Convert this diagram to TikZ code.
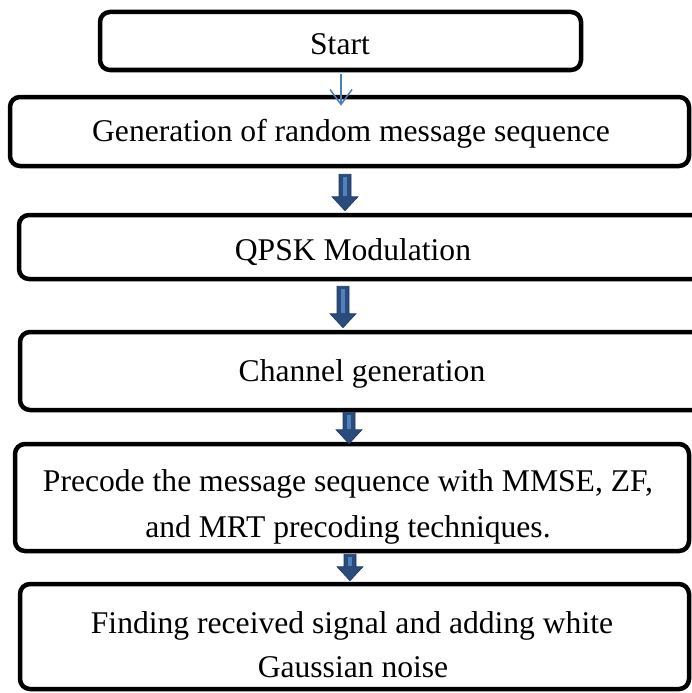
\documentclass[tikz,border=0pt]{standalone}
\usepackage{fontspec}
\setmainfont{Liberation Serif}
\usetikzlibrary{arrows.meta,calc}
\definecolor{flowdark}{HTML}{2B4B7C}
\definecolor{flowedge}{HTML}{1F3864}
\definecolor{flowlight}{HTML}{4F81BD}
\definecolor{flowthin}{HTML}{4A7EBB}
\tikzset{
  stepbox/.style={draw=black, line width=4.5pt, rounded corners=10pt,
    rectangle, inner sep=0pt},
  steptext/.style={anchor=base, inner sep=0pt, align=center,
    font=\fontsize{31.6}{46}\selectfont},
  thinarrow/.style={draw=flowthin, line width=1.5pt,
    -{Straight Barb[length=15pt,width=22pt,line width=1.5pt]}},
  blockbody/.style={fill=flowdark, draw=flowedge, line width=0.6pt},
  blockstripe/.style={fill=flowlight}
}
% block arrow from #1 (top of the shaft) down to #2 (tip)
\newcommand\flowarrow[2]{%
  \path let \p1=#1, \p2=#2 in
    [blockbody] (\x1-6pt,\y1) -- (\x1+6pt,\y1) -- (\x1+6pt,\y2+14pt)
      -- (\x1+13pt,\y2+14pt) -- (\x1,\y2) -- (\x1-13pt,\y2+14pt)
      -- (\x1-6pt,\y2+14pt) -- cycle;
  \path let \p1=#1, \p2=#2 in
    [blockstripe] (\x1-1.6pt,\y1-3pt) rectangle (\x1+1.6pt,\y2+15pt);
}
\begin{document}
\begin{tikzpicture}[x=1pt,y=-1pt]
  \useasboundingbox (0,0) rectangle (692,693);
  \clip (0,0) rectangle (692,693);

  % process boxes
  \node[stepbox, minimum width=481pt, minimum height=58pt] (b1) at (340.5,41) {};
  \node[stepbox, minimum width=679pt, minimum height=69pt] (b2) at (349.5,131.5) {};
  \node[stepbox, minimum width=701pt, minimum height=64pt] (b3) at (369.5,247) {};
  \node[stepbox, minimum width=700pt, minimum height=78pt] (b4) at (370,371) {};
  \node[stepbox, minimum width=674pt, minimum height=107pt] (b5) at (352,497.5) {};
  \node[stepbox, minimum width=669pt, minimum height=105pt] (b6) at (354.5,636.5) {};

  % box captions
  \node[steptext] (t1) at (340,55) {Start};
  \node[steptext] (t2) at (351,141) {Generation of random message sequence};
  \node[steptext] (t3) at (353,260) {QPSK Modulation};
  \node[steptext] (t4) at (362,381) {Channel generation};
  \node[steptext] (t5a) at (348,491) {Precode the message sequence with MMSE, ZF,};
  \node[steptext] (t5b) at (348,537) {and MRT precoding techniques.};
  \node[steptext] (t6a) at (352,633) {Finding received signal and adding white};
  \node[steptext] (t6b) at (353,677) {Gaussian noise};

  % first connector: thin line arrow
  \draw[thinarrow] ([xshift=0.5pt,yshift=-2pt]b1.south) -- ([xshift=-8.5pt,yshift=-11pt]b2.north);

  % block arrows between the remaining steps
  \flowarrow{([xshift=-4.5pt,yshift=-6pt]b2.south)}{([xshift=-24.5pt,yshift=2pt]b3.north)}
  \flowarrow{([xshift=-26.5pt,yshift=-5pt]b3.south)}{([xshift=-27pt,yshift=2pt]b4.north)}
  \flowarrow{([xshift=-21pt,yshift=0pt]b4.south)}{([xshift=-3pt,yshift=-2pt]b5.north)}
  \flowarrow{([xshift=-2pt,yshift=-1pt]b5.south)}{([xshift=-4.5pt,yshift=1pt]b6.north)}
\end{tikzpicture}
\end{document}
